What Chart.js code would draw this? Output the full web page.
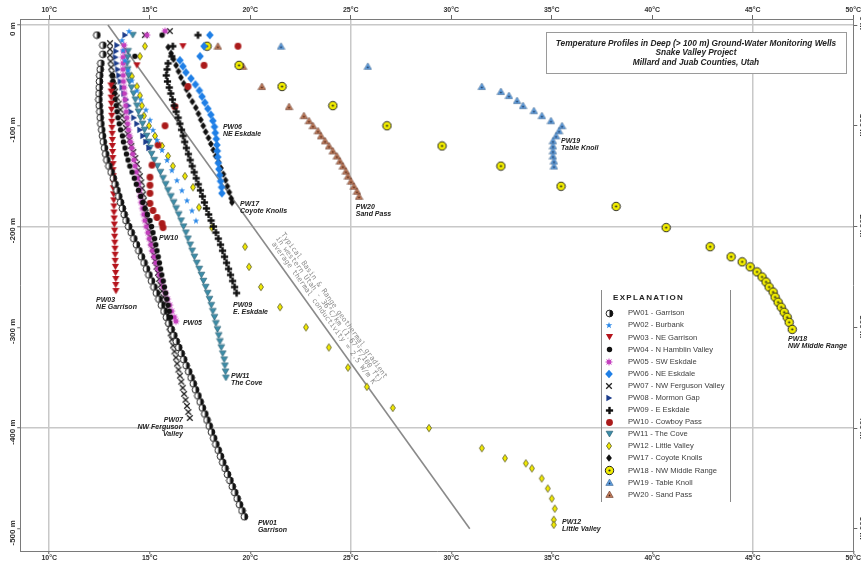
<!DOCTYPE html>
<html><head><meta charset="utf-8">
<script src="https://cdn.jsdelivr.net/npm/chart.js@4.4.1/dist/chart.umd.min.js"></script>
<style>html,body{margin:0;padding:0;overflow:hidden;background:#fff}#wrap{width:880px;height:564px}</style>
</head><body><div id="wrap"><canvas id="c" width="880" height="564"></canvas></div>
<script>
// ---------------- DATA ----------------
const tempTicks = [10,15,20,25,30,35,40,45,50];
const depthTicks = [0,-100,-200,-300,-400,-500];
const gridTemps = [10,25,45];
const gridDepths = [0,-200,-400];

const pw01Depth = [-10,-20,-29,-38,-44,-50,-56,-62,-68,-74,-80,-86,-92,-98,-104,-110,-116,-122,-128,-134,-140,-146,-152,-158,-164,-170,-176,-182,-188,-194,-200,-206,-212,-218,-224,-230,-236,-242,-248,-254,-260,-266,-272,-278,-284,-290,-296,-302,-308,-314,-320,-326,-332,-338,-344,-350,-356,-362,-368,-374,-380,-386,-392,-398,-404,-410,-416,-422,-428,-434,-440,-446,-452,-458,-464,-470,-476,-482,-488];
const pw01Temp = [12.37,12.67,12.67,12.57,12.54,12.51,12.50,12.49,12.48,12.47,12.49,12.52,12.54,12.57,12.61,12.65,12.69,12.75,12.81,12.87,12.97,13.08,13.19,13.28,13.37,13.46,13.55,13.64,13.73,13.82,13.95,14.08,14.21,14.34,14.46,14.59,14.72,14.84,14.96,15.09,15.21,15.33,15.46,15.58,15.71,15.83,15.95,16.07,16.20,16.32,16.44,16.57,16.69,16.81,16.94,17.06,17.17,17.28,17.40,17.51,17.62,17.74,17.85,17.96,18.07,18.18,18.29,18.41,18.52,18.63,18.75,18.87,18.99,19.11,19.23,19.35,19.47,19.59,19.71];

const pw02Depth = [-6,-15,-25,-35,-45,-55,-65,-74,-84,-94,-104,-114,-124,-134,-144,-154,-164,-174,-184,-194];
const pw02Temp = [13.97,13.62,13.67,13.77,13.92,14.11,14.36,14.56,14.81,15.01,15.16,15.36,15.61,15.86,16.10,16.35,16.60,16.85,17.10,17.30];

const pw03Depth = [-21,-40,-60,-66,-72,-78,-84,-90,-96,-102,-108,-114,-120,-126,-132,-138,-144,-150,-156,-162,-168,-174,-180,-186,-192,-198,-204,-210,-216,-222,-228,-234,-240,-246,-252,-258,-264];
const pw03Temp = [16.65,14.36,13.07,13.08,13.08,13.09,13.10,13.11,13.11,13.12,13.13,13.14,13.14,13.15,13.16,13.17,13.17,13.18,13.19,13.19,13.20,13.21,13.22,13.22,13.23,13.24,13.25,13.25,13.26,13.27,13.28,13.28,13.29,13.30,13.31,13.31,13.32];

const pw04Depth = [-10,-31,-50,-56,-62,-68,-74,-80,-86,-92,-98,-104,-110,-116,-122,-128,-134,-140,-146,-152,-158,-164,-170,-176,-182,-188,-194,-200,-206,-212,-218,-224,-230,-236,-242,-248,-254,-260,-266,-272,-278,-284,-290];
const pw04Temp = [15.61,14.26,13.15,13.17,13.20,13.24,13.27,13.33,13.37,13.42,13.48,13.55,13.64,13.69,13.77,13.84,13.92,14.01,14.12,14.23,14.33,14.44,14.55,14.65,14.76,14.88,15.01,15.09,15.16,15.24,15.30,15.36,15.42,15.48,15.54,15.60,15.67,15.73,15.79,15.85,15.91,15.97,16.03];

const pw05Depth = [-6,-10,-20,-26,-32,-38,-44,-50,-56,-62,-68,-74,-80,-86,-92,-98,-104,-110,-116,-122,-128,-134,-140,-146,-152,-158,-164,-170,-176,-182,-188,-194,-200,-206,-212,-218,-224,-230,-236,-242,-248,-254,-260,-266,-272,-278,-284,-290,-294];
const pw05Temp = [15.76,14.86,13.72,13.70,13.67,13.67,13.67,13.68,13.69,13.72,13.74,13.77,13.80,13.83,13.86,13.90,13.94,13.99,14.04,14.10,14.15,14.21,14.27,14.33,14.39,14.44,14.49,14.53,14.58,14.64,14.70,14.76,14.83,14.91,14.98,15.05,15.13,15.21,15.30,15.39,15.48,15.57,15.67,15.78,15.88,15.99,16.09,16.22,16.30];

const pw06Depth = [-10,-21,-31,-35,-41,-47,-53,-59,-65,-71,-77,-83,-89,-95,-101,-107,-113,-119,-125,-131,-137,-143,-149,-155,-161,-167];
const pw06Temp = [17.99,17.70,17.50,16.50,16.65,16.80,17.05,17.27,17.47,17.60,17.74,17.89,18.04,18.14,18.22,18.26,18.31,18.34,18.36,18.38,18.41,18.44,18.48,18.52,18.57,18.59];

const pw07Depth = [-6,-10,-18,-24,-30,-36,-42,-48,-54,-60,-66,-72,-78,-84,-90,-96,-102,-108,-114,-120,-126,-132,-138,-144,-150,-156,-162,-168,-174,-180,-186,-192,-198,-204,-210,-216,-222,-228,-234,-240,-246,-252,-258,-264,-270,-276,-282,-288,-294,-300,-306,-312,-318,-324,-330,-336,-342,-348,-354,-360,-366,-372,-378,-384,-390];
const pw07Temp = [16.00,14.76,13.02,13.02,13.02,13.05,13.08,13.11,13.16,13.22,13.28,13.36,13.45,13.54,13.63,13.72,13.81,13.90,13.99,14.08,14.18,14.28,14.36,14.44,14.51,14.58,14.62,14.67,14.71,14.76,14.80,14.85,14.91,14.97,15.03,15.09,15.15,15.21,15.27,15.34,15.41,15.47,15.54,15.61,15.68,15.74,15.80,15.86,15.92,15.98,16.04,16.10,16.16,16.23,16.30,16.36,16.43,16.50,16.57,16.64,16.71,16.78,16.85,16.92,16.99];

const pw08Depth = [-10,-20,-26,-32,-38,-44,-50,-56,-62,-68,-74,-80,-86,-92,-98,-104,-110,-116,-122];
const pw08Temp = [13.77,13.37,13.32,13.29,13.34,13.41,13.47,13.54,13.63,13.72,13.82,13.94,14.06,14.21,14.36,14.51,14.66,14.81,14.96];

const pw09Depth = [-10,-21,-31,-38,-44,-50,-56,-62,-68,-74,-80,-86,-92,-98,-104,-110,-116,-122,-128,-134,-140,-146,-152,-158,-164,-170,-176,-182,-188,-194,-200,-206,-212,-218,-224,-230,-236,-242,-248,-254,-260,-266];
const pw09Temp = [17.40,16.15,16.10,15.91,15.86,15.82,15.88,15.97,16.05,16.13,16.21,16.31,16.41,16.50,16.58,16.66,16.74,16.82,16.92,17.01,17.11,17.21,17.31,17.41,17.52,17.62,17.72,17.82,17.93,18.05,18.17,18.29,18.41,18.52,18.62,18.72,18.82,18.92,19.02,19.12,19.22,19.32];

const pw10Depth = [-21,-40,-61,-81,-100,-119,-139,-151,-159,-167,-177,-184,-191,-197,-201];
const pw10Temp = [19.39,17.70,16.90,16.25,15.76,15.41,15.11,15.01,15.01,15.01,15.01,15.16,15.36,15.61,15.66];

const pw11Depth = [-10,-26,-32,-38,-44,-50,-56,-62,-68,-74,-80,-86,-92,-98,-104,-110,-116,-122,-128,-134,-140,-146,-152,-158,-164,-170,-176,-182,-188,-194,-200,-206,-212,-218,-224,-230,-236,-242,-248,-254,-260,-266,-272,-278,-284,-290,-296,-302,-308,-314,-320,-326,-332,-338,-344,-350];
const pw11Temp = [14.16,13.92,13.89,13.87,13.90,13.94,13.99,14.09,14.19,14.28,14.36,14.44,14.54,14.64,14.74,14.84,14.94,15.01,15.09,15.22,15.38,15.53,15.66,15.79,15.91,16.05,16.19,16.31,16.44,16.56,16.68,16.80,16.90,17.01,17.11,17.22,17.34,17.46,17.57,17.67,17.78,17.88,17.97,18.06,18.14,18.22,18.29,18.37,18.43,18.49,18.56,18.63,18.70,18.74,18.77,18.79];

const pw12Depth = [-21,-31,-51,-61,-70,-80,-90,-100,-110,-120,-130,-140,-150,-161,-181,-201,-220,-240,-260,-280,-300,-320,-340,-359,-380,-400,-420,-430,-435,-440,-450,-460,-470,-480,-491,-496];
const pw12Temp = [14.76,14.51,14.11,14.36,14.51,14.61,14.71,14.96,15.26,15.61,15.91,16.15,16.75,17.15,17.45,18.09,19.74,19.94,20.53,21.48,22.77,23.91,24.86,25.80,27.09,28.89,31.52,32.67,33.71,34.01,34.50,34.80,35.00,35.15,35.10,35.10];

const pw17Depth = [-22,-28,-34,-40,-46,-52,-58,-64,-70,-76,-82,-88,-94,-100,-106,-112,-118,-124,-130,-136,-142,-148,-154,-160,-166,-172,-176];
const pw17Temp = [15.92,16.06,16.18,16.31,16.43,16.55,16.69,16.83,16.96,17.12,17.29,17.42,17.54,17.66,17.78,17.92,18.04,18.16,18.28,18.42,18.54,18.66,18.77,18.86,18.96,19.05,19.09];

const pw18Depth = [-21,-40,-61,-80,-100,-120,-140,-160,-180,-201,-220,-230,-235,-240,-245,-250,-255,-260,-265,-270,-275,-280,-285,-290,-295,-302];
const pw18Temp = [17.85,19.44,21.58,24.11,26.80,29.54,32.47,35.46,38.20,40.69,42.88,43.92,44.47,44.87,45.21,45.46,45.66,45.81,46.01,46.11,46.26,46.41,46.56,46.71,46.81,46.96];

const pw19Depth = [-21,-41,-61,-66,-70,-75,-80,-85,-90,-95,-100,-105,-110,-115,-120,-125,-130,-135,-140];
const pw19Temp = [21.53,25.85,31.52,32.47,32.87,33.27,33.57,34.11,34.51,34.96,35.51,35.36,35.21,35.06,35.06,35.06,35.06,35.11,35.11];

const pw20Depth = [-21,-41,-61,-81,-90,-95,-100,-105,-110,-115,-120,-125,-130,-135,-140,-145,-150,-155,-160,-165,-170];
const pw20Temp = [18.39,19.64,20.58,21.93,22.67,22.92,23.12,23.37,23.52,23.72,23.92,24.11,24.31,24.46,24.61,24.76,24.86,25.01,25.16,25.31,25.41];

// typical Basin & Range gradient (36 C/km)
const gradTemp = [12.92, 30.92];
const gradDepth = [0, -500];

const wellIds = ['PW01','PW02','PW03','PW04','PW05','PW06','PW07','PW08','PW09','PW10','PW11','PW12','PW17','PW18','PW19','PW20'];
const wellNames = ['Garrison','Burbank','NE Garrison','N Hamblin Valley','SW Eskdale','NE Eskdale','NW Ferguson Valley','Mormon Gap','E Eskdale','Cowboy Pass','The Cove','Little Valley','Coyote Knolls','NW Middle Range','Table Knoll','Sand Pass'];
const wellTemps = [pw01Temp,pw02Temp,pw03Temp,pw04Temp,pw05Temp,pw06Temp,pw07Temp,pw08Temp,pw09Temp,pw10Temp,pw11Temp,pw12Temp,pw17Temp,pw18Temp,pw19Temp,pw20Temp];
const wellDepths = [pw01Depth,pw02Depth,pw03Depth,pw04Depth,pw05Depth,pw06Depth,pw07Depth,pw08Depth,pw09Depth,pw10Depth,pw11Depth,pw12Depth,pw17Depth,pw18Depth,pw19Depth,pw20Depth];

const titleLines = ['Temperature Profiles in Deep (> 100 m) Ground-Water Monitoring Wells','Snake Valley Project','Millard and Juab Counties, Utah'];
const gradientText = ['Typical Basin & Range geothermal gradient','in western Utah - 36\u00B0C/km (1.67\u00B0F/100 ft)','average thermal conductivity = 2.5 W/m K'];

// annotation anchors (temperature, depth)
const wellLabels = [
  {lines:['PW06','NE Eskdale'], t:18.64, d:-101, align:'left'},
  {lines:['PW17','Coyote Knolls'], t:19.49, d:-178, align:'left'},
  {lines:['PW20','Sand Pass'], t:25.25, d:-181, align:'left'},
  {lines:['PW19','Table Knoll'], t:35.46, d:-115, align:'left'},
  {lines:['PW10'], t:15.46, d:-211, align:'left'},
  {lines:['PW03','NE Garrison'], t:12.33, d:-273, align:'left'},
  {lines:['PW09','E. Eskdale'], t:19.14, d:-278, align:'left'},
  {lines:['PW05'], t:16.65, d:-296, align:'left'},
  {lines:['PW11','The Cove'], t:19.04, d:-348, align:'left'},
  {lines:['PW07','NW Ferguson','Valley'], t:16.65, d:-392, align:'right'},
  {lines:['PW01','Garrison'], t:20.38, d:-494, align:'left'},
  {lines:['PW12','Little Valley'], t:35.51, d:-493, align:'left'},
  {lines:['PW18','NW Middle Range'], t:46.75, d:-312, align:'left'}
];

// ---------------- SYMBOLS ----------------
function mk(w,h,fn){const c=document.createElement('canvas');c.width=w;c.height=h;const g=c.getContext('2d');fn(g,w/2,h/2);return c;}
function poly(g,pts){g.beginPath();pts.forEach((p,i)=>i?g.lineTo(p[0],p[1]):g.moveTo(p[0],p[1]));g.closePath();}
function starPath(g,cx,cy,R,r,n){g.beginPath();for(let i=0;i<2*n;i++){const a=i*Math.PI/n;const rr=i%2?r:R;g.lineTo(cx+rr*Math.sin(a),cy-rr*Math.cos(a));}g.closePath();}
function upTri(fill,edge,dot){return mk(9,9,(g,cx,cy)=>{poly(g,[[cx,cy-3.5],[cx+3.7,cy+2.9],[cx-3.7,cy+2.9]]);g.fillStyle=fill;g.fill();g.lineWidth=0.6;g.strokeStyle=edge;g.stroke();g.beginPath();g.arc(cx,cy+0.9,0.85,0,Math.PI*2);g.fillStyle=dot;g.fill();});}
const SYM = {
  PW01: mk(9,9,(g,cx,cy)=>{g.beginPath();g.arc(cx,cy,3.4,Math.PI/2,Math.PI*1.5);g.closePath();g.fillStyle='#fff';g.fill();g.beginPath();g.arc(cx,cy,3.4,-Math.PI/2,Math.PI/2);g.closePath();g.fillStyle='#111';g.fill();g.beginPath();g.arc(cx,cy,3.4,0,Math.PI*2);g.lineWidth=0.9;g.strokeStyle='#111';g.stroke();}),
  PW02: mk(8,8,(g,cx,cy)=>{starPath(g,cx,cy+0.4,3.5,1.4,5);g.fillStyle='#2B88E8';g.fill();}),
  PW03: mk(9,8,(g,cx,cy)=>{poly(g,[[cx-3.6,cy-3],[cx+3.6,cy-3],[cx,cy+3.2]]);g.fillStyle='#B5141C';g.fill();}),
  PW04: mk(7,7,(g,cx,cy)=>{g.beginPath();g.arc(cx,cy,2.7,0,Math.PI*2);g.fillStyle='#111';g.fill();}),
  PW05: mk(10,10,(g,cx,cy)=>{starPath(g,cx,cy,4.2,1.9,8);g.fillStyle='#C43DBE';g.fill();}),
  PW06: mk(10,10,(g,cx,cy)=>{poly(g,[[cx,cy-4.3],[cx+3.8,cy],[cx,cy+4.3],[cx-3.8,cy]]);g.fillStyle='#1F7FE6';g.fill();}),
  PW07: mk(8,8,(g,cx,cy)=>{g.beginPath();g.moveTo(cx-2.8,cy-2.8);g.lineTo(cx+2.8,cy+2.8);g.moveTo(cx+2.8,cy-2.8);g.lineTo(cx-2.8,cy+2.8);g.lineWidth=1.3;g.strokeStyle='#222';g.stroke();}),
  PW08: mk(8,8,(g,cx,cy)=>{poly(g,[[cx-2.6,cy-3.2],[cx+3.2,cy],[cx-2.6,cy+3.2]]);g.fillStyle='#1C3D8C';g.fill();}),
  PW09: mk(9,9,(g,cx,cy)=>{g.fillStyle='#111';g.fillRect(cx-3.6,cy-1.2,7.2,2.4);g.fillRect(cx-1.2,cy-3.6,2.4,7.2);}),
  PW10: mk(9,9,(g,cx,cy)=>{g.beginPath();g.arc(cx,cy,3.4,0,Math.PI*2);g.fillStyle='#AA1A1A';g.fill();}),
  PW11: mk(9,8,(g,cx,cy)=>{poly(g,[[cx-3.4,cy-2.8],[cx+3.4,cy-2.8],[cx,cy+3]]);g.fillStyle='#3C8DA8';g.fill();g.lineWidth=0.6;g.strokeStyle='#24596b';g.stroke();}),
  PW12: mk(8,10,(g,cx,cy)=>{poly(g,[[cx,cy-3.7],[cx+2.5,cy],[cx,cy+3.7],[cx-2.5,cy]]);g.fillStyle='#F2EA00';g.fill();g.lineWidth=0.8;g.strokeStyle='#55552a';g.stroke();}),
  PW17: mk(8,10,(g,cx,cy)=>{poly(g,[[cx,cy-3.8],[cx+2.9,cy],[cx,cy+3.8],[cx-2.9,cy]]);g.fillStyle='#111';g.fill();}),
  PW18: mk(11,11,(g,cx,cy)=>{g.beginPath();g.arc(cx,cy,4.2,0,Math.PI*2);g.fillStyle='#F3EE00';g.fill();g.lineWidth=1;g.strokeStyle='#222';g.stroke();g.beginPath();g.arc(cx,cy,1.1,0,Math.PI*2);g.fillStyle='#222';g.fill();}),
  PW19: upTri('#5FA2E6','#3b5f88','#1a2a44'),
  PW20: upTri('#C8805F','#5a2e1e','#3a1a10')
};

// ---------------- CHART ----------------
const FONT = '"Liberation Sans", Arial, sans-serif';
const X_MIN = 8.58, X_MAX = 50, Y_MIN = -522, Y_MAX = 6;

const datasets = wellIds.map((id,i)=>({
  label: id + ' - ' + wellNames[i],
  wellId: id,
  data: wellTemps[i].map((t,k)=>({x:t, y:wellDepths[i][k]})).filter(p=>p.y!==undefined),
  pointStyle: SYM[id], pointRadius: 3, showLine: false
}));
datasets.push({
  label: 'gradient',
  data: gradTemp.map((t,k)=>({x:t,y:gradDepth[k]})),
  showLine: true, pointRadius: 0, borderColor: '#8a8a8a', borderWidth: 1.6, fill: false
});

const tickSetter = vals => s => { s.ticks = vals.map(v=>({value:v})); };
const gridColor = vals => c => (c.tick && vals.includes(c.tick.value)) ? '#c8c8c8' : 'rgba(0,0,0,0)';

const decor = {
  id: 'decor',
  afterDraw(chart){
    const ctx = chart.ctx, xs = chart.scales.x, ys = chart.scales.y;
    ctx.save();
    // depth axis labels
    ctx.font = 'bold 8px ' + FONT; ctx.fillStyle = '#333'; ctx.textAlign='center'; ctx.textBaseline='middle';
    depthTicks.forEach(v=>{
      const py = ys.getPixelForValue(v) + 4;
      ctx.save(); ctx.translate(13, py); ctx.rotate(-Math.PI/2); ctx.fillText(v + ' m', 0, 0); ctx.restore();
      ctx.save(); ctx.translate(862, py - 6); ctx.rotate(Math.PI/2); ctx.fillText(v + ' m', 0, 0); ctx.restore();
    });
    // gradient annotation text
    const p0 = {x: xs.getPixelForValue(gradTemp[0]), y: ys.getPixelForValue(gradDepth[0])};
    const p1 = {x: xs.getPixelForValue(gradTemp[1]), y: ys.getPixelForValue(gradDepth[1])};
    const ang = Math.atan2(p1.y-p0.y, p1.x-p0.x);
    const len = Math.hypot(p1.x-p0.x, p1.y-p0.y);
    const along = 0.58*len;
    ctx.save();
    ctx.translate(p0.x + Math.cos(ang)*along, p0.y + Math.sin(ang)*along);
    ctx.rotate(ang);
    ctx.font = '7.2px "DejaVu Sans Mono", "Liberation Mono", monospace';
    ctx.fillStyle = '#8c8c8c'; ctx.textAlign='center'; ctx.textBaseline='middle';
    [-20,-13.5,-7].forEach((off,i)=>ctx.fillText(gradientText[i], 0, off));
    ctx.restore();
    // well labels
    ctx.font = 'italic bold 7px ' + FONT; ctx.fillStyle = '#222'; ctx.textBaseline='middle';
    wellLabels.forEach(L=>{
      const px = xs.getPixelForValue(L.t), py = ys.getPixelForValue(L.d);
      ctx.textAlign = L.align;
      L.lines.forEach((s,k)=>ctx.fillText(s, px, py + k*7));
    });
    // title box
    ctx.fillStyle='#fff'; ctx.fillRect(546,32,301,42);
    ctx.strokeStyle='#9a9a9a'; ctx.lineWidth=1; ctx.strokeRect(546.5,32.5,300,41);
    ctx.font='italic bold 8.3px ' + FONT; ctx.fillStyle='#222'; ctx.textAlign='center'; ctx.textBaseline='middle';
    ctx.fillText(titleLines[0], 696, 43.5);
    ctx.fillText(titleLines[1], 696, 53);
    ctx.fillText(titleLines[2], 696, 62.5);
    // legend (explanation)
    ctx.strokeStyle='#8a8a8a'; ctx.lineWidth=1;
    ctx.beginPath(); ctx.moveTo(601.5,290); ctx.lineTo(601.5,502); ctx.moveTo(730.5,290); ctx.lineTo(730.5,502); ctx.stroke();
    ctx.font='bold 8px ' + FONT; ctx.fillStyle='#222'; ctx.textAlign='left';
    if ('letterSpacing' in ctx) ctx.letterSpacing = '1.3px';
    ctx.fillText('EXPLANATION', 613, 298);
    if ('letterSpacing' in ctx) ctx.letterSpacing = '0px';
    ctx.font='7.6px ' + FONT; ctx.fillStyle='#3c3c3c';
    chart.data.datasets.forEach((ds,i)=>{
      if (!ds.wellId) return;
      const y = 313.3 + i*12.09;
      const s = SYM[ds.wellId];
      ctx.drawImage(s, Math.round(609 - s.width/2), Math.round(y - s.height/2));
      ctx.fillText(ds.label, 628, y);
    });
    ctx.restore();
  }
};

new Chart(document.getElementById('c'), {
  type: 'scatter',
  data: { datasets },
  options: {
    responsive: false, animation: false, events: [],
    layout: { padding: 0 },
    plugins: { legend: {display:false}, tooltip: {enabled:false} },
    scales: {
      x: { type:'linear', position:'bottom', min:X_MIN, max:X_MAX,
        afterBuildTicks: tickSetter(tempTicks), afterFit: s=>{ s.height = 13; },
        grid: { color: gridColor(gridTemps), lineWidth: 1.5, tickColor:'#666', tickLength:3, tickWidth:1 },
        border: { color:'#7a7a7a', width:1 },
        ticks: { callback: v=>v+'\u00B0C', font:{family:FONT, size:7, weight:'bold'}, color:'#333', padding:0, maxRotation:0, minRotation:0, autoSkip:false } },
      xTop: { type:'linear', position:'top', min:X_MIN, max:X_MAX,
        afterBuildTicks: tickSetter(tempTicks), afterFit: s=>{ s.height = 19; },
        grid: { drawOnChartArea:false, tickColor:'#666', tickLength:4, tickWidth:1 },
        border: { color:'#7a7a7a', width:1 },
        ticks: { callback: v=>v+'\u00B0C', font:{family:FONT, size:7, weight:'bold'}, color:'#333', padding:1, maxRotation:0, minRotation:0, autoSkip:false } },
      y: { type:'linear', position:'left', min:Y_MIN, max:Y_MAX,
        afterBuildTicks: tickSetter(depthTicks), afterFit: s=>{ s.width = 20.7; },
        grid: { color: gridColor(gridDepths), lineWidth: 1.5, tickColor:'#666', tickLength:3.5, tickWidth:1 },
        border: { color:'#7a7a7a', width:1 },
        ticks: { display:false } },
      yRight: { type:'linear', position:'right', min:Y_MIN, max:Y_MAX,
        afterBuildTicks: tickSetter(depthTicks), afterFit: s=>{ s.width = 26.7; },
        grid: { drawOnChartArea:false, tickColor:'#666', tickLength:4, tickWidth:1 },
        border: { color:'#7a7a7a', width:1 },
        ticks: { display:false } }
    }
  },
  plugins: [decor]
});
</script></body></html>
